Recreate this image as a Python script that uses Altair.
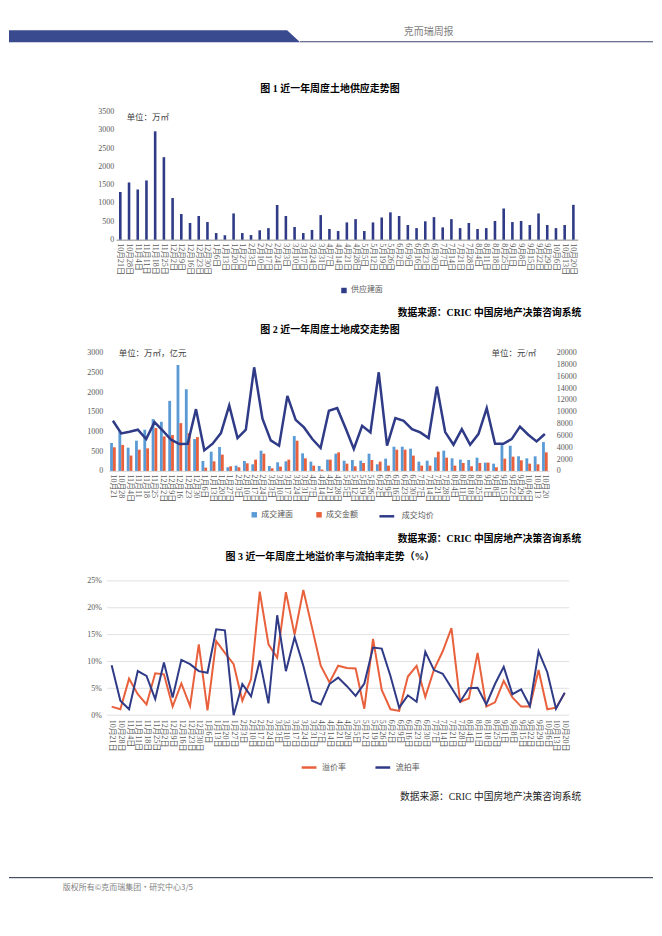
import altair as alt
import pandas as pd

dates = ["10月21日", "10月28日", "11月4日", "11月11日", "11月18日", "11月25日", "12月2日", "12月9日",
         "12月16日", "12月23日", "12月30日", "1月6日", "1月13日", "1月20日", "1月27日", "2月3日",
         "2月10日", "2月17日", "2月24日", "3月3日", "3月10日", "3月17日", "3月24日", "3月31日",
         "4月7日", "4月14日", "4月21日", "4月28日", "5月5日", "5月12日", "5月19日", "5月26日",
         "6月2日", "6月9日", "6月16日", "6月23日", "6月30日", "7月7日", "7月14日", "7月21日",
         "7月28日", "8月4日", "8月11日", "8月18日", "8月25日", "9月1日", "9月8日", "9月15日",
         "9月22日", "9月29日", "10月6日", "10月13日", "10月20日"]

supply = [1300, 1560, 1370, 1615, 2955, 2250, 1135, 700, 455, 645, 480, 180, 120, 715, 180, 125,
          255, 315, 945, 645, 345, 180, 265, 670, 290, 235, 470, 560, 235, 470, 605, 745,
          645, 400, 315, 500, 615, 335, 560, 315, 455, 290, 315, 510, 850, 480, 510, 400,
          715, 400, 315, 400, 950]

deal_area = [710, 1020, 590, 767, 1045, 1315, 1247, 1778, 2688, 2073, 809, 253, 489, 607, 93, 135,
             253, 169, 514, 126, 219, 244, 885, 447, 236, 126, 287, 438, 261, 278, 261, 438,
             169, 312, 615, 615, 565, 236, 261, 345, 514, 320, 287, 278, 337, 211, 185, 657,
             640, 371, 320, 371, 733]

deal_amount = [600, 660, 390, 540, 573, 1087, 876, 910, 1213, 961, 860, 84, 244, 413, 118, 93,
               194, 287, 438, 67, 110, 287, 767, 320, 135, 34, 287, 472, 185, 118, 202, 278,
               236, 135, 540, 540, 388, 135, 135, 489, 337, 135, 202, 118, 202, 211, 93, 312,
               362, 270, 185, 169, 472]

deal_price = [8480, 6350, 6630, 6970, 5390, 8260, 6800, 5280, 4550, 4610, 10450, 3480, 4610, 6400,
              11070, 5560, 6970, 17530, 8820, 5170, 4270, 12700, 8650, 7360, 5390, 3880, 10170,
              10620, 7250, 3710, 7640, 6520, 16690, 4270, 8930, 8480, 7080, 6520, 5560, 14270,
              6570, 4440, 7080, 4440, 6240, 10620, 4600, 4600, 5390, 7500, 6120, 5000, 6240]

premium_rate = [1.6, 1.1, 6.8, 3.9, 2.0, 7.8, 7.6, 1.6, 5.9, 1.7, 13.2, 0.9, 13.8, 11.6, 9.5, 2.7,
                6.7, 23.0, 13.2, 10.7, 22.9, 15.0, 23.3, 16.3, 9.2, 6.1, 9.2, 8.8, 8.7, 1.2, 14.2,
                4.7, 1.1, 0.8, 7.2, 9.2, 3.4, 8.5, 11.9, 16.2, 2.5, 3.1, 11.6, 1.6, 2.4, 6.4, 3.3,
                1.6, 1.6, 8.4, 1.1, 1.4, 4.1]

unsold_rate = [9.3, 2.7, 1.1, 8.2, 7.3, 3.0, 9.8, 3.3, 10.3, 9.5, 8.2, 7.9, 16.0, 15.8, 0.0, 5.8,
               3.5, 10.2, 2.2, 18.6, 8.2, 14.5, 9.2, 2.7, 2.0, 5.8, 7.0, 5.4, 3.6, 5.9, 12.6,
               12.4, 7.3, 1.4, 3.7, 2.5, 11.8, 8.4, 7.7, 5.1, 2.5, 5.0, 5.1, 2.0, 5.8, 9.0, 3.9,
               4.8, 1.7, 11.9, 8.0, 1.2, 4.2]

left_ticks_1 = [0, 500, 1000, 1500, 2000, 2500, 3000, 3500]
left_ticks_2 = [0, 500, 1000, 1500, 2000, 2500, 3000]
right_ticks_2 = [0, 2000, 4000, 6000, 8000, 10000, 12000, 14000, 16000, 18000, 20000]
pct_ticks = [0, 5, 10, 15, 20, 25]

FONT = "Liberation Serif, Noto Sans CJK SC"
SANS = "Noto Sans CJK SC"
W = 646
NAVY = "#2f3b86"
BLUE = "#5b9bd5"
ORANGE = "#e8603c"
LABEL = "#595959"
SRC = "数据来源：CRIC 中国房地产决策咨询系统"


def text_layer(text, x, y, size, weight="normal", align="left", color="#000000", font=FONT):
    return alt.Chart(pd.DataFrame({"t": [text]})).mark_text(
        align=align, baseline="middle", fontSize=size, fontWeight=weight,
        color=color, font=font).encode(x=alt.value(x), y=alt.value(y), text="t:N")


def x_axis(domain_color, expr=None):
    kw = dict(title=None, labelAngle=90, labelFontSize=8, labelFont=FONT, labelColor=LABEL,
              labelPadding=3, ticks=False, tickSize=0, labelOverlap=False,
              domainColor=domain_color, domainWidth=1, grid=False)
    if expr:
        kw["labelExpr"] = expr
    return alt.Axis(**kw)


def y_axis(values, offset, orient="left", expr=None):
    kw = dict(title=None, orient=orient, values=values, format="d", domain=False, ticks=False,
              tickSize=0, labelFontSize=8, labelFont=FONT, labelColor=LABEL, labelPadding=3,
              offset=offset, grid=False, labelOverlap=False)
    if expr:
        kw["labelExpr"] = expr
    return alt.Axis(**kw)


# ---------------- panel 1: header + chart 1 ----------------
H1 = 231
band = alt.Chart(pd.DataFrame({"k": [0]})).mark_point(
    shape="M-1,-0.0411L0.911,-0.0411L1,0.0411L-1,0.0411Z", size=85264, filled=True,
    opacity=1, strokeWidth=0, color="#3a4a8f").encode(x=alt.value(146), y=alt.value(27))
hline = alt.Chart(pd.DataFrame({"k": [0]})).mark_rule(color="#3c4470", strokeWidth=1).encode(
    x=alt.value(292), x2=alt.value(W), y=alt.value(32.5))
htext = text_layer("克而瑞周报", 396, 23, 10, color="#7f7f7f", font=SANS)
title1 = text_layer("图 1 近一年周度土地供应走势图", 322, 80, 10, weight="bold", align="center")
unit1 = text_layer("单位：万㎡", 118, 108, 8.5, color="#404040")

df1 = pd.DataFrame({"date": dates, "v": supply, "s1": "供应建面"})
bars1 = alt.Chart(df1).mark_bar(size=2.6).encode(
    x=alt.X("date:N", scale=alt.Scale(domain=dates, range=[107.3, 570.5], paddingInner=0, paddingOuter=0),
            axis=x_axis("#8c8c8c")),
    y=alt.Y("v:Q", scale=alt.Scale(domain=[0, 3500], range=[H1, 102.3], nice=False),
            axis=y_axis(left_ticks_1, -108)),
    color=alt.Color("s1:N", scale=alt.Scale(domain=["供应建面"], range=[NAVY]),
                    legend=alt.Legend(title=None, orient="none", legendX=332, legendY=278,
                                      symbolType="square", symbolSize=30, symbolStrokeWidth=0,
                                      labelFontSize=8, labelFont=SANS, labelColor=LABEL, labelOffset=3)),
)
p1 = alt.layer(band, hline, htext, title1, unit1, bars1).properties(width=W, height=H1)

# ---------------- panel 2: chart 2 ----------------
H2 = 232
src1 = text_layer(SRC, 574, 74, 9.8, weight="bold", align="right")
title2 = text_layer("图 2 近一年周度土地成交走势图", 322, 91, 10, weight="bold", align="center")
unit2l = text_layer("单位：万㎡，亿元", 110, 114, 8.5, color="#404040")
unit2r = text_layer("单位：元/㎡", 484, 114, 8.5, color="#404040")

df2 = pd.DataFrame({
    "date": dates * 2,
    "v": deal_area + deal_amount,
    "s2": ["成交建面"] * len(dates) + ["成交金额"] * len(dates),
})
df2l = pd.DataFrame({"date": dates, "p": deal_price, "s2l": "成交均价"})
x2 = alt.X("date:N", scale=alt.Scale(domain=dates, range=[100.1, 541.7], paddingInner=0.32, paddingOuter=0.16),
           axis=x_axis("#d9d9d9", "substring(datum.label, 0, 5)"))
bars2 = alt.Chart(df2).mark_bar().encode(
    x=x2,
    xOffset=alt.XOffset("s2:N", scale=alt.Scale(domain=["成交建面", "成交金额"], paddingInner=0, paddingOuter=0)),
    y=alt.Y("v:Q", scale=alt.Scale(domain=[0, 3000], range=[H2, 113.4], nice=False),
            axis=y_axis(left_ticks_2, -97)),
    color=alt.Color("s2:N", scale=alt.Scale(domain=["成交建面", "成交金额"], range=[BLUE, ORANGE]),
                    legend=alt.Legend(title=None, orient="none", legendX=242, legendY=272,
                                      direction="horizontal", symbolType="square", symbolSize=30,
                                      symbolStrokeWidth=0, columnPadding=22, labelOffset=3,
                                      labelFontSize=8, labelFont=SANS, labelColor=LABEL)),
)
line2 = alt.Chart(df2l).mark_line(strokeWidth=2.5).encode(
    x=x2,
    y=alt.Y("p:Q", scale=alt.Scale(domain=[0, 20000], range=[H2, 113.4], nice=False),
            axis=y_axis(right_ticks_2, -100, orient="right")),
    stroke=alt.Stroke("s2l:N", scale=alt.Scale(domain=["成交均价"], range=[NAVY]),
                      legend=alt.Legend(title=None, orient="none", legendX=370, legendY=268.5,
                                        symbolType="stroke", symbolSize=220, symbolStrokeWidth=2.5,
                                        labelOffset=6, labelFontSize=8, labelFont=SANS, labelColor=LABEL)),
)
p2 = alt.layer(src1, title2, unit2l, unit2r, bars2, line2).resolve_scale(y="independent").properties(
    width=W, height=H2)

# ---------------- panel 3: chart 3 + footer ----------------
H3 = 245
src2 = text_layer(SRC, 574, 68, 9.8, weight="bold", align="right")
title3 = text_layer("图 3 近一年周度土地溢价率与流拍率走势（%）", 322, 86, 10, weight="bold", align="center")
src3 = text_layer(SRC, 574, 327, 9.8, align="right", color="#222222")
fline = alt.Chart(pd.DataFrame({"k": [0]})).mark_rule(color="#1d2a3f", strokeWidth=1).encode(
    x=alt.value(0), x2=alt.value(W), y=alt.value(408))
ftext = text_layer("版权所有©克而瑞集团·研究中心3/5", 54, 418, 8, color="#7f7f7f", font=SANS)

y3scale = alt.Scale(domain=[0, 25], range=[H3, 110.3], nice=False)
y3axis = y_axis(pct_ticks, -95.7, expr="datum.value + '%'")
grid3 = alt.Chart(pd.DataFrame({"r": pct_ticks})).mark_rule(color="#d9d9d9", strokeWidth=0.8).encode(
    y=alt.Y("r:Q", scale=y3scale, axis=y3axis), x=alt.value(98.5), x2=alt.value(562))
df3 = pd.DataFrame({
    "date": dates * 2,
    "r": premium_rate + unsold_rate,
    "s3": ["溢价率"] * len(dates) + ["流拍率"] * len(dates),
})
lines3 = alt.Chart(df3).mark_line(strokeWidth=2).encode(
    x=alt.X("date:N", scale=alt.Scale(type="point", domain=dates, range=[98.6, 561.8], padding=0.5),
            axis=alt.Axis(title=None, labelAngle=90, labelFontSize=8, labelFont=FONT, labelColor=LABEL,
                          labelPadding=4, ticks=False, tickSize=0, labelOverlap=False, domain=False,
                          grid=False)),
    y=alt.Y("r:Q", scale=y3scale, axis=y3axis),
    color=alt.Color("s3:N", scale=alt.Scale(domain=["溢价率", "流拍率"], range=[ORANGE, NAVY]),
                    legend=alt.Legend(title=None, orient="none", legendX=292, legendY=288.5,
                                      direction="horizontal", symbolType="stroke", symbolSize=220,
                                      symbolStrokeWidth=2.5, columnPadding=24, labelOffset=4,
                                      labelFontSize=8, labelFont=SANS, labelColor=LABEL)),
    detail="s3:N",
)
p3 = alt.layer(src2, title3, src3, fline, ftext, grid3, lines3).properties(width=W, height=H3)

chart = alt.vconcat(p1, p2, p3, spacing=0, bounds="flush", padding=0).resolve_scale(
    color="independent", stroke="independent").resolve_legend(
    color="independent", stroke="independent").configure_view(strokeWidth=0, stroke="transparent")

chart.save("out.html", embed_options={"renderer": "svg", "actions": False})
